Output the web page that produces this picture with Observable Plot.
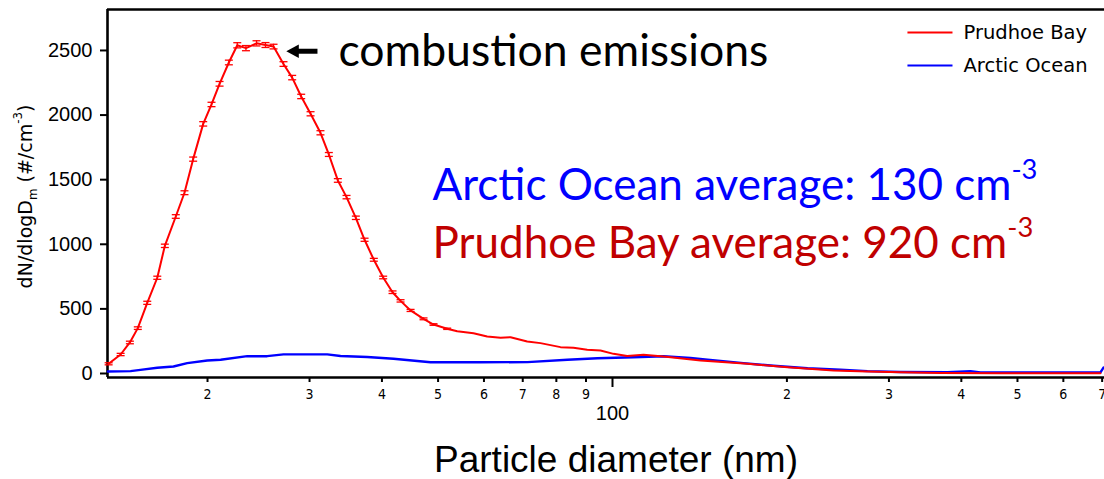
<!DOCTYPE html>
<html>
<head>
<meta charset="utf-8">
<script src="https://cdn.jsdelivr.net/npm/d3@7"></script>
<script src="https://cdn.jsdelivr.net/npm/@observablehq/plot@0.6"></script>
<style>
  html, body { margin: 0; padding: 0; background: #fff; }
  #chart { width: 1104px; height: 479px; }
</style>
</head>
<body>
<div id="chart"></div>
<script>
// Particle number size distributions (dN/dlogDm, #/cm^3) vs mobility diameter (nm)
const prudhoeDiameter = [13.50, 14.16, 14.69, 15.16, 15.74, 16.38, 16.88, 17.63, 18.25, 18.89,
  19.66, 20.32, 20.98, 21.77, 22.51, 23.30, 24.30, 25.18, 26.00, 27.05,
  28.00, 29.02, 30.12, 31.33, 32.39, 33.57, 34.75, 36.06, 37.33, 38.73,
  40.20, 41.72, 43.07, 44.82, 47.19, 49.10, 51.84, 53.95, 57.56, 60.77,
  64.09, 66.69, 71.25, 75.11, 81.33, 85.64, 90.43, 95.34, 100.4, 106.0,
  113.1, 122.5, 141.9, 171.0, 200.5, 240.7, 275.5, 314.1, 368.2, 467.4,
  593.3, 695.4];
const prudhoeValue = [75, 147, 240, 351, 547, 741, 988, 1215, 1399, 1659,
  1932, 2082, 2242, 2407, 2540, 2518, 2555, 2542, 2530, 2395,
  2290, 2144, 2010, 1863, 1695, 1494, 1365, 1205, 1035, 880,
  743, 629, 562, 488, 423, 379, 346, 327, 312, 286,
  276, 281, 248, 235, 204, 199, 183, 178, 152, 135,
  145, 131, 100, 75, 49, 23, 15, 10, 3, 2,
  2, 2];
const prudhoeError = [8, 9, 10, 10, 12, 12, 13, 14, 15, 16,
  17, 17, 18, 18, 20, 20, 20, 19, 18, 18,
  17, 17, 16, 16, 15, 14, 13, 13, 12, 11,
  10, 10, 9, 8, 7, 6, 5, null, null, null,
  null, null, null, null, null, null, null, null, null, null,
  null, null, null, null, null, null, null, null, null, null,
  null, null];

const arcticDiameter = [13.46, 14.73, 15.32, 16.38, 17.47, 18.45, 19.98, 21.07, 23.42, 25.35,
  27.05, 32.19, 33.93, 37.73, 41.88, 48.52, 59.19, 71.33, 83.61, 94.21,
  108.7, 122.5, 136.3, 145.9, 168.3, 189.6, 217.1, 247.5, 275.5, 314.1,
  378.6, 414.8, 431.6, 570.1, 695.4, 703.8];
const arcticValue = [15, 18, 28, 44, 54, 80, 101, 106, 134, 134,
  148, 148, 135, 128, 114, 87, 87, 88, 106, 118,
  126, 134, 121, 106, 80, 60, 41, 29, 18, 12,
  10, 18, 8, 8, 8, 46];

const seriesNames = ["Prudhoe Bay", "Arctic Ocean"];
const seriesColors = ["#ff0000", "#0000ff"];

const minorTicks = [20, 30, 40, 50, 60, 70, 80, 90, 200, 300, 400, 500, 600, 700];
const decadeTicks = [100];
const yTicks = [0, 500, 1000, 1500, 2000, 2500];

const noteLines = [
  "combustion emissions",
  "Arctic Ocean average: 130 cm^{-3}",
  "Prudhoe Bay average: 920 cm^{-3}"
];
const noteColors = ["#000000", "#0000ff", "#c00000"];

const xTitle = "Particle diameter (nm)";
const yTitle = "dN/dlogD_{m} (#/cm^{-3})";

// tidy rows for the marks
const prudhoe = prudhoeDiameter.map((d, i) => ({d, v: prudhoeValue[i], e: prudhoeError[i]}));
const arctic = arcticDiameter.map((d, i) => ({d, v: arcticValue[i]}));
const withError = prudhoe.filter(r => r.e != null);
const caps = withError.flatMap(r => [{d: r.d, v: r.v - r.e}, {d: r.d, v: r.v + r.e}]);

const xDomain = [13.44, 706.6];
const yDomain = [-31, 2817];

// horizontal cap used for the error bars
const capSymbol = {
  draw(ctx, size) {
    const r = Math.sqrt(size / Math.PI);
    ctx.moveTo(-r, 0);
    ctx.lineTo(r, 0);
  }
};
// left-pointing arrow head
const headSymbol = {
  draw(ctx, size) {
    const r = Math.sqrt(size / Math.PI);
    ctx.moveTo(-r * 1.25, 0);
    ctx.lineTo(r * 1.25, -r * 1.35);
    ctx.lineTo(r * 1.25, r * 1.35);
    ctx.closePath();
  }
};

const noteFont = "Lato, 'Open Sans', sans-serif";
const sansFont = "'Liberation Sans', Arial, sans-serif";
const narrowFont = "'Liberation Sans Narrow', 'DejaVu Sans Condensed', 'Liberation Sans', sans-serif";
const legendRows = seriesNames.map((name, i) => ({name, color: seriesColors[i], v: [2639, 2384][i]}));
const firstDigit = d => String(d)[0];

const chart = Plot.plot({
  width: 1104,
  height: 479,
  marginLeft: 107,
  marginRight: 0,
  marginTop: 9,
  marginBottom: 102,
  x: {type: "log", domain: xDomain, label: null},
  y: {domain: yDomain, label: null},
  style: {background: "#ffffff", color: "#000000", fontFamily: "'DejaVu Sans', sans-serif", overflow: "visible"},
  marks: [
    // axes
    Plot.axisY({ticks: yTicks, tickFormat: d => String(d), tickSize: 7, tickPadding: 8, fontSize: 20, fontFamily: sansFont, strokeWidth: 2, label: null}),
    Plot.axisX({ticks: minorTicks, text: firstDigit, tickSize: 5, tickPadding: 7, fontSize: 14, fontFamily: narrowFont, strokeWidth: 2, label: null}),
    Plot.axisX({ticks: decadeTicks, text: d => String(d), tickSize: 10, tickPadding: 18, fontSize: 20, fontFamily: sansFont, strokeWidth: 2, label: null}),
    Plot.ruleY([yDomain[0]], {strokeWidth: 2.6, stroke: "#000"}),
    Plot.ruleY([yDomain[1]], {strokeWidth: 2.4, stroke: "#000"}),
    Plot.ruleX([xDomain[0]], {strokeWidth: 2.6, stroke: "#000"}),

    // Arctic Ocean
    Plot.line(arctic, {x: "d", y: "v", stroke: seriesColors[1], strokeWidth: 2.4}),
    // Prudhoe Bay with error bars
    Plot.line(prudhoe, {x: "d", y: "v", stroke: seriesColors[0], strokeWidth: 2}),
    Plot.ruleX(withError, {x: "d", y1: r => r.v - r.e, y2: r => r.v + r.e, stroke: seriesColors[0], strokeWidth: 1.3}),
    Plot.dot(caps, {x: "d", y: "v", symbol: capSymbol, r: 4, stroke: seriesColors[0], strokeWidth: 1.3, fill: "none"}),

    // arrow pointing at the peak
    Plot.link([0], {x1: 30.96, x2: 28.3, y1: 2494, y2: 2494, stroke: "#000", strokeWidth: 5, ariaLabel: "arrow"}),
    Plot.dot([0], {x: 28.04, y: 2494, symbol: headSymbol, r: 5, fill: "#000", stroke: "none", ariaLabel: "arrow"}),

    // annotations
    Plot.text([noteLines[0]], {x: 33.66, y: 2490, text: d => d, textAnchor: "start", lineAnchor: "middle", fontSize: 44.5, fontFamily: noteFont, fill: noteColors[0], ariaLabel: "note"}),
    Plot.text([noteLines[1]], {x: 48.9, y: 1450, text: d => d, textAnchor: "start", lineAnchor: "middle", fontSize: 44, fontFamily: noteFont, fill: noteColors[1], ariaLabel: "note"}),
    Plot.text([noteLines[2]], {x: 48.9, y: 1000, text: d => d, textAnchor: "start", lineAnchor: "middle", fontSize: 44, fontFamily: noteFont, fill: noteColors[2], ariaLabel: "note"}),

    // legend
    Plot.link(legendRows, {x1: 322.9, x2: 386.2, y1: "v", y2: "v", stroke: "color", strokeWidth: 2}),
    Plot.text(legendRows, {x: 403.5, y: "v", text: "name", textAnchor: "start", lineAnchor: "middle", fontSize: 19.5, fontFamily: "'DejaVu Sans', sans-serif", fill: "#000"}),

    // axis titles
    Plot.text([xTitle], {frameAnchor: "bottom", dx: 10, dy: 83, text: d => d, textAnchor: "middle", lineAnchor: "middle", fontSize: 37, fontFamily: sansFont, fill: "#000"}),
    Plot.text([yTitle], {frameAnchor: "left", dx: -82, dy: 3, rotate: -90, text: d => d, textAnchor: "middle", lineAnchor: "middle", fontSize: 19, fontFamily: "'DejaVu Sans', sans-serif", fill: "#000"})
  ]
});

document.getElementById("chart").appendChild(chart);

// soft drop shadow for the arrow
const svg = d3.select(chart);
const defs = svg.insert("defs", ":first-child");
const f = defs.append("filter").attr("id", "arrow-shadow").attr("x", "-50%").attr("y", "-50%").attr("width", "200%").attr("height", "200%");
f.append("feDropShadow").attr("dx", 3).attr("dy", 4).attr("stdDeviation", 2.5).attr("flood-color", "#000").attr("flood-opacity", 0.45);
svg.selectAll('g[aria-label="arrow"]').attr("filter", "url(#arrow-shadow)");

// turn _{..} and ^{..} into sub/superscript tspans
const NS = "http://www.w3.org/2000/svg";
svg.selectAll("text").each(function () {
  const s = this.textContent;
  if (!/[_^]\{/.test(s)) return;
  const fs = parseFloat(getComputedStyle(this).fontSize) || 16;
  const parts = s.split(/([_^]\{[^}]*\})/).filter(p => p.length);
  this.textContent = "";
  let offset = 0;
  for (const p of parts) {
    const m = p.match(/^([_^])\{(.*)\}$/);
    const ts = document.createElementNS(NS, "tspan");
    let target = 0, text = p;
    if (m) {
      text = m[2];
      target = m[1] === "^" ? -0.48 * fs : 0.28 * fs;
      ts.setAttribute("font-size", (0.62 * fs).toFixed(1) + "px");
    }
    ts.setAttribute("dy", (target - offset).toFixed(2));
    offset = target;
    ts.textContent = text;
    this.appendChild(ts);
  }
});
</script>
</body>
</html>
